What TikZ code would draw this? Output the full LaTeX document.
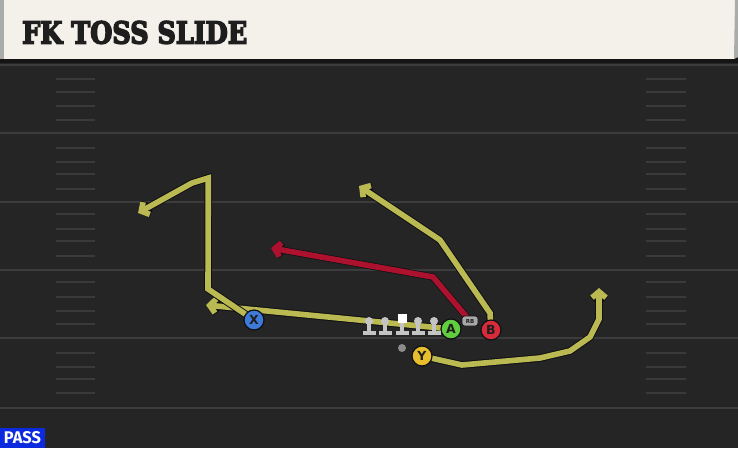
\documentclass[tikz,border=0pt]{standalone}
\usepackage{fontspec}
\usepackage{graphicx}
\usetikzlibrary{arrows.meta}
\newfontfamily\titlefont{DejaVu Serif}[UprightFont={* Bold}]
\newfontfamily\labelfont{DejaVu Sans}
\newfontfamily\passfont{Fira Sans}
\definecolor{fieldbg}{RGB}{37,37,37}
\definecolor{yardline}{RGB}{60,60,60}
\definecolor{hashc}{RGB}{58,58,58}
\definecolor{headerbg}{RGB}{244,241,234}
\definecolor{headeredge}{RGB}{170,172,170}
\definecolor{titleink}{RGB}{30,30,30}
\definecolor{passblue}{RGB}{12,42,222}
\definecolor{routeyellow}{RGB}{187,186,82}
\definecolor{routered}{RGB}{172,18,46}
\definecolor{routeedge}{RGB}{16,16,20}
\definecolor{xblue}{RGB}{62,122,216}
\definecolor{agreen}{RGB}{96,206,62}
\definecolor{bred}{RGB}{214,44,58}
\definecolor{yyellow}{RGB}{232,190,44}
\definecolor{lineman}{RGB}{196,196,196}
\definecolor{qbgrey}{RGB}{140,140,140}
\definecolor{rbgrey}{RGB}{168,168,168}
\pgfdeclarelayer{bg}
\pgfdeclarelayer{routes}
\pgfsetlayers{bg,routes,main}
\tikzset{
  yard/.style={draw=yardline, line width=2.2pt},
  hashmark/.style={draw=hashc, line width=2pt},
  routey/.style={draw=routeyellow, line width=5.6pt, -{Straight Barb[length=6pt,width=14pt]},
     preaction={draw=routeedge, line width=7.6pt, -{Straight Barb[length=6pt,width=14pt]}}},
  router/.style={draw=routered, line width=5.6pt, -{Straight Barb[length=6pt,width=14pt]},
     preaction={draw=routeedge, line width=7pt, -{Straight Barb[length=6pt,width=14pt]}}},
  player/.style={circle, minimum size=20pt, inner sep=0pt, draw=routeedge, line width=1.2pt,
     font=\labelfont\bfseries\fontsize{12.5}{12.5}\selectfont, text=titleink},
  rbtag/.style={draw=routeedge, fill=rbgrey, rounded corners=2.5pt, line width=0.8pt,
     minimum width=16pt, minimum height=10pt, inner sep=0pt,
     font=\labelfont\bfseries\fontsize{5.5}{6}\selectfont, text=titleink},
  qbdot/.style={circle, fill=qbgrey, minimum size=8pt, inner sep=0pt},
  olhead/.style={circle, fill=lineman, minimum size=8pt, inner sep=0pt},
  olcenter/.style={rectangle, fill=white, minimum size=9pt, inner sep=0pt},
  olbody/.style={fill=lineman},
  passbox/.style={fill=passblue, minimum width=45pt, minimum height=20pt, inner sep=0pt, text=white}
}
\begin{document}
\begin{tikzpicture}[x=1pt,y=-1pt]
\useasboundingbox (0,0) rectangle (738,448);
\begin{pgfonlayer}{bg}
  \fill[fieldbg] (0,0) rectangle (738,448);
  \foreach \yy in {65,133,202,270,338,408} \draw[yard] (0,\yy) -- (738,\yy);
  \foreach \yy in {79,92,106,120,148,162,174,189,214,229,241,256,282,297,311,324,353,367,379,393} {
    \draw[hashmark] (56,\yy) -- (95,\yy);
    \draw[hashmark] (646,\yy) -- (686,\yy);
  }
  \fill[black!92] (0,58) rectangle (738,63);
  \fill[headerbg] (4,0) rectangle (735,59);
  \fill[headeredge] (0,0) rectangle (4,59);
  \fill[headeredge] (735,0) -- (738,0) -- (738,57) -- (734,59) -- cycle;
\end{pgfonlayer}

\node[anchor=base west, inner sep=0pt, text=titleink] (title) at (22,43.5)
  {\resizebox{225pt}{22.5pt}{\titlefont\fontsize{30.8}{31}\selectfont\special{pdf:literal direct 2 Tr 1.6 w}FK TOSS SLIDE\special{pdf:literal direct 0 Tr}}};
\node[passbox] (pass) at (22.5,438) {\resizebox{37pt}{12pt}{\passfont\bfseries PASS}};

% players
\node[player, fill=xblue] (X) at (254,320) {X};
\node[player, fill=agreen] (A) at (451,329) {A};
\node[player, fill=bred] (B) at (491,330) {B};
\node[player, fill=yyellow] (Y) at (422,356) {Y};
\node[rbtag] (RB) at (470,321) {RB};
\node[qbdot] (QB) at (402,348) {};

% offensive line
\foreach \xx/\nm in {369/LT,385/LG,418/RG,434/RT} {
  \fill[olbody] (\xx-1.8,322) rectangle (\xx+1.8,333);
  \fill[olbody] (\xx-6.5,331) rectangle (\xx+6.5,335);
  \node[olhead] (\nm) at (\xx,321) {};
}
\fill[olbody] (400.2,322) rectangle (403.8,333);
\fill[olbody] (395.5,331) rectangle (408.5,335);
\node[olcenter] (C) at (402,318) {};

% route points
\coordinate (a1) at (206,305);
\coordinate (x1) at (208,289);
\coordinate (x2) at (208.3,178);
\coordinate (x3) at (192,183);
\coordinate (x4) at (138,213);
\coordinate (b1) at (490,313);
\coordinate (b2) at (440,240);
\coordinate (b3) at (359,186);
\coordinate (r1) at (433,277);
\coordinate (r2) at (271,248);
\coordinate (y1) at (462,365);
\coordinate (y2) at (540,358);
\coordinate (y3) at (570,351);
\coordinate (y4) at (590,337);
\coordinate (y5) at (599,319);
\coordinate (y6) at (599,288);

\begin{pgfonlayer}{routes}
  \draw[routey] (A.center) -- (a1);
  \draw[routey] (X.center) -- (x1) -- (x2) -- (x3) -- (x4);
  \draw[routey] (B.center) -- (b1) -- (b2) -- (b3);
  \draw[router] (RB.center) -- (r1) -- (r2);
  \draw[routey] (Y.center) -- (y1) -- (y2) -- (y3) -- (y4) -- (y5) -- (y6);
\end{pgfonlayer}
\end{tikzpicture}
\end{document}
